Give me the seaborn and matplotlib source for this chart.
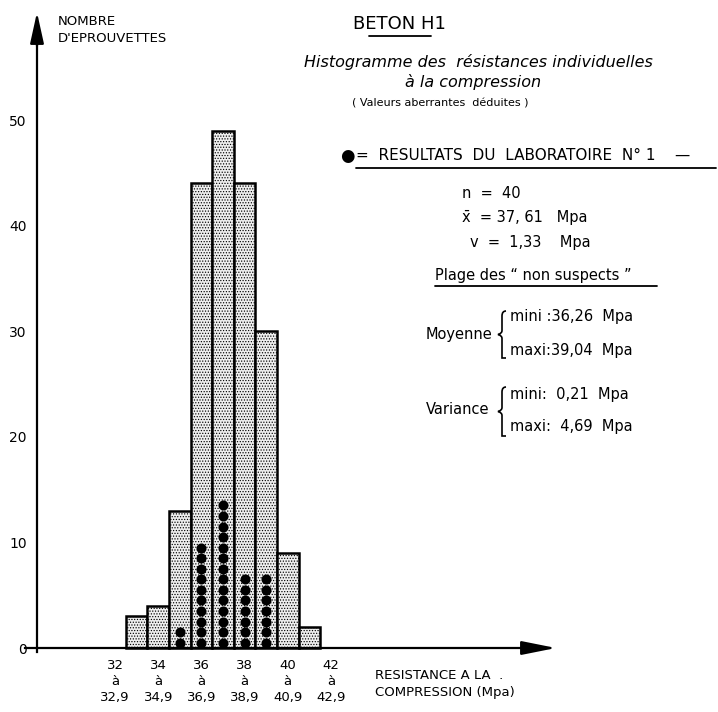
import matplotlib
matplotlib.use("Agg")
import matplotlib.pyplot as plt
import pandas as pd
import seaborn as sns
from matplotlib.path import Path
from matplotlib.patches import PathPatch

# Compressive strength classes (MPa) and number of specimens, all laboratories
classes = [33, 34, 35, 36, 37, 38, 39, 40, 41]
counts = [3, 4, 13, 44, 49, 44, 30, 9, 2]

# Laboratory no. 1: one dot per specimen, stacked in its class
lab1_classes = [35, 36, 37, 38, 39]
lab1_counts = [2, 10, 14, 7, 7]

# Axis ticks and labels
y_ticks = [0, 10, 20, 30, 40, 50]
x_label_pos = [32, 34, 36, 38, 40, 42]
x_labels = ["32\nà\n32,9", "34\nà\n34,9", "36\nà\n36,9",
            "38\nà\n38,9", "40\nà\n40,9", "42\nà\n42,9"]
x_range_marks = [31.5, 42.45]

sns.set_style("white")
plt.rcParams["font.family"] = ["DejaVu Sans"]
for key in ["text.color", "axes.labelcolor", "xtick.color", "ytick.color"]:
    plt.rcParams[key] = "black"
plt.rcParams["hatch.linewidth"] = 0.55

W, H = 718, 712
fig = plt.figure(figsize=(W / 100, H / 100), dpi=100)

# data <-> pixel mapping: 1 MPa = 21.6 px, 1 specimen = 10.56 px
x0_px, ux = 115.0, 21.6
y0_px, uy = 648.0, 10.56
ax = fig.add_axes([0, 0, 1, 1])
ax.set_xlim(32 - x0_px / ux, 32 + (W - x0_px) / ux)
ax.set_ylim(-(H - y0_px) / uy, y0_px / uy)
ax.patch.set_alpha(0)


def px(x, y):
    return x / W, 1 - y / H


# histogram bars
sns.barplot(x=classes, y=counts, native_scale=True, width=1.0,
            color="#eeeeee", saturation=1, edgecolor="black",
            linewidth=1.8, hatch="......", ax=ax, zorder=2)

# laboratory 1 dots
rows = []
for c, k in zip(lab1_classes, lab1_counts):
    for i in range(k):
        rows.append({"classe": c, "rang": i + 0.5})
dots = pd.DataFrame(rows)
sns.scatterplot(data=dots, x="classe", y="rang", color="black", s=52,
                edgecolor="black", linewidth=0, ax=ax, zorder=3, legend=False)

# axes drawn as arrows through the spines
y_axis_x = 32 - (x0_px - 37) / ux
for s in ["top", "right"]:
    ax.spines[s].set_visible(False)
ax.spines["left"].set_position(("data", y_axis_x))
ax.spines["bottom"].set_position(("data", 0))
ax.spines["left"].set_bounds(-0.35, 58)
ax.spines["bottom"].set_bounds(32 - (x0_px - 25) / ux, 51.5)
for s in ["left", "bottom"]:
    ax.spines[s].set_linewidth(1.6)
    ax.spines[s].set_color("black")
ax.annotate("", xy=(y_axis_x, 60.2), xytext=(y_axis_x, 57.0),
            arrowprops=dict(arrowstyle="-|>,head_length=1.9,head_width=0.42",
                            color="black", lw=1.6, shrinkA=0, shrinkB=0))
ax.annotate("", xy=(32 + (556 - x0_px) / ux, 0), xytext=(51.0, 0),
            arrowprops=dict(arrowstyle="-|>,head_length=2.1,head_width=0.42",
                            color="black", lw=1.6, shrinkA=0, shrinkB=0))

ax.set_yticks(y_ticks)
ax.set_yticklabels([str(v) for v in y_ticks])
ax.tick_params(axis="y", direction="inout", length=9, width=1.4,
               pad=3, labelsize=10)
ax.set_xticks(x_label_pos)
ax.set_xticklabels(x_labels, linespacing=1.3)
ax.set_xticks(x_range_marks, minor=True)
ax.tick_params(axis="x", which="major", length=0, pad=8, labelsize=9.5)
ax.tick_params(axis="x", which="minor", direction="inout", length=10,
               width=1.4)
ax.set_xlabel("")
ax.set_ylabel("")
for t in ax.get_yticklabels() + ax.get_xticklabels():
    t.set_fontweight("medium")

# axis titles
fig.text(*px(58, 30), "NOMBRE\nD'EPROUVETTES", fontsize=9.5, va="center",
         ha="left", linespacing=1.35, fontweight="medium")
fig.text(*px(375, 684), "RESISTANCE A LA  .\nCOMPRESSION (Mpa)", fontsize=9.5,
         va="center", ha="left", linespacing=1.35, fontweight="medium")

# header
fig.text(*px(399, 24), "BETON H1", fontsize=13, ha="center", va="center")
fig.add_artist(plt.Line2D([369 / W, 431 / W], [1 - 36 / H, 1 - 36 / H],
                          color="black", lw=1.3))
fig.text(*px(478, 62), "Histogramme des  résistances individuelles",
         fontsize=11.5, style="italic", ha="center", va="center")
fig.text(*px(473, 82), "à la compression", fontsize=11.5, style="italic",
         ha="center", va="center")
fig.text(*px(440, 104), "( Valeurs aberrantes  déduites )", fontsize=8,
         ha="center", va="center")

fig.text(*px(340, 156), "●", fontsize=12, ha="left", va="center")
fig.text(*px(356, 156), "=  RESULTATS  DU  LABORATOIRE  N° 1    —",
         fontsize=11, ha="left", va="center")
fig.add_artist(plt.Line2D([356 / W, 716 / W], [1 - 168 / H, 1 - 168 / H],
                          color="black", lw=1.3))

stat_fs = 10.5
fig.text(*px(462, 193), "n  =  40", fontsize=stat_fs, ha="left", va="center")
fig.text(*px(462, 217), "x̄  = 37, 61   Mpa", fontsize=stat_fs, ha="left",
         va="center")
fig.text(*px(470, 242), "v  =  1,33    Mpa", fontsize=stat_fs, ha="left",
         va="center")
fig.text(*px(435, 276), "Plage des \u201c non suspects \u201d", fontsize=stat_fs,
         ha="left", va="center")
fig.add_artist(plt.Line2D([435 / W, 657 / W], [1 - 286 / H, 1 - 286 / H],
                          color="black", lw=1.3))


def brace(x, top, bottom):
    """Thin left curly brace drawn in pixel coordinates."""
    mid = (top + bottom) / 2
    pts = [(x + 4, top), (x, top), (x, top + 5), (x, top + 8),
           (x, mid - 4), (x, mid - 1), (x - 4, mid),
           (x, mid + 1), (x, mid + 4),
           (x, bottom - 8), (x, bottom - 5), (x, bottom), (x + 4, bottom)]
    codes = [Path.MOVETO, Path.CURVE3, Path.CURVE3, Path.LINETO,
             Path.LINETO, Path.CURVE3, Path.CURVE3,
             Path.CURVE3, Path.CURVE3,
             Path.LINETO, Path.CURVE3, Path.CURVE3, Path.CURVE3]
    codes[-1] = Path.LINETO
    verts = [px(a, b) for a, b in pts]
    fig.add_artist(PathPatch(Path(verts, codes), transform=fig.transFigure,
                             fill=False, lw=1.2, edgecolor="black"))


fig.text(*px(426, 334), "Moyenne", fontsize=stat_fs, ha="left", va="center")
brace(502, 311, 358)
fig.text(*px(510, 317), "mini :36,26  Mpa", fontsize=stat_fs, ha="left",
         va="center")
fig.text(*px(510, 350), "maxi:39,04  Mpa", fontsize=stat_fs, ha="left",
         va="center")

fig.text(*px(426, 410), "Variance", fontsize=stat_fs, ha="left", va="center")
brace(502, 387, 436)
fig.text(*px(510, 394), "mini:  0,21  Mpa", fontsize=stat_fs, ha="left",
         va="center")
fig.text(*px(510, 427), "maxi:  4,69  Mpa", fontsize=stat_fs, ha="left",
         va="center")

fig.savefig("out.png", dpi=100)
